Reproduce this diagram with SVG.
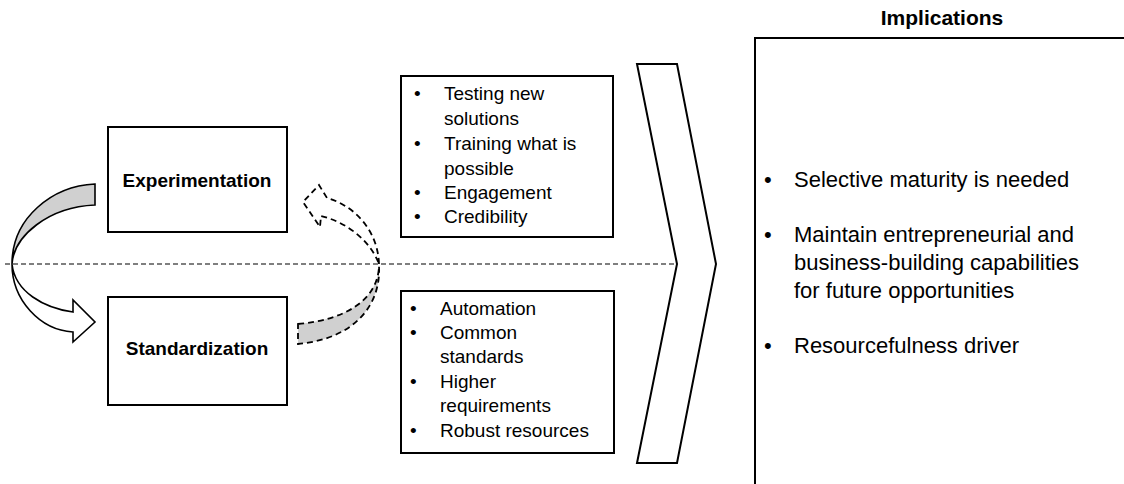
<svg xmlns="http://www.w3.org/2000/svg" width="1124" height="484" viewBox="0 0 1124 484">
  <style>
    .box { fill: #ffffff; stroke: #000000; stroke-width: 2; }
    .lbl { font-family: "Liberation Sans", Arial, sans-serif; fill: #000000; }
    .bold { font-weight: bold; font-size: 19px; text-anchor: middle; }
    .list { font-size: 19px; }
    .impl { font-size: 22px; }
    .divider { stroke: #000000; stroke-width: 1.2; stroke-dasharray: 5 3; fill: none; }
    .solid-arrow { stroke: #000000; stroke-width: 1.6; stroke-linejoin: miter; }
    .dash-arrow { stroke: #000000; stroke-width: 1.8; stroke-dasharray: 6 4; stroke-linejoin: miter; }
  </style>

  <rect width="1124" height="484" fill="#ffffff"/>

  <!-- horizontal divider between the two modes -->
  <line class="divider" x1="5" y1="264" x2="677" y2="264"/>

  <g id="node-experimentation">
    <rect class="box" x="108" y="127" width="179" height="105"/>
    <text class="lbl bold" x="197" y="187">Experimentation</text>
  </g>

  <g id="node-standardization">
    <rect class="box" x="108" y="297" width="179" height="108"/>
    <text class="lbl bold" x="197" y="355">Standardization</text>
  </g>

  <g id="node-experimentation-traits">
    <rect class="box" x="401" y="76" width="212" height="161"/>
    <g class="lbl list">
      <text x="414" y="100">•</text><text x="444" y="100">Testing new</text>
      <text x="444" y="125">solutions</text>
      <text x="414" y="150">•</text><text x="444" y="150">Training what is</text>
      <text x="444" y="175">possible</text>
      <text x="414" y="199">•</text><text x="444" y="199">Engagement</text>
      <text x="414" y="223">•</text><text x="444" y="223">Credibility</text>
    </g>
  </g>

  <g id="node-standardization-traits">
    <rect class="box" x="401" y="291" width="213" height="162"/>
    <g class="lbl list">
      <text x="410" y="315">•</text><text x="440" y="315">Automation</text>
      <text x="410" y="339">•</text><text x="440" y="339">Common</text>
      <text x="440" y="363">standards</text>
      <text x="410" y="388">•</text><text x="440" y="388">Higher</text>
      <text x="440" y="412">requirements</text>
      <text x="410" y="437">•</text><text x="440" y="437">Robust resources</text>
    </g>
  </g>

  <g id="node-chevron">
    <polygon class="box" points="637,64 677,64 716,264 677,463 637,463 677,264"/>
  </g>

  <g id="node-implications">
    <text class="lbl" x="942" y="25" font-size="21" font-weight="bold" text-anchor="middle">Implications</text>
    <polyline fill="none" stroke="#000000" stroke-width="2" points="755,484 755,38 1124,38"/>
    <g class="lbl impl">
      <text x="764" y="187">•</text><text x="794" y="187">Selective maturity is needed</text>
      <text x="764" y="242">•</text><text x="794" y="242">Maintain entrepreneurial and</text>
      <text x="794" y="270">business-building capabilities</text>
      <text x="794" y="298">for future opportunities</text>
      <text x="764" y="353">•</text><text x="794" y="353">Resourcefulness driver</text>
    </g>
  </g>

  <g id="connectors">
    <!-- curved arrow: experimentation down to standardization -->
    <g id="edge-exp-to-std">
      <path class="solid-arrow" fill="#d0d0d0"
            d="M95,184 C52,186 12,218 12,264 C14,236 48,207 95,205 Z"/>
      <path class="solid-arrow" fill="#ffffff"
            d="M12,264 C12,300 40,330 73,332 L73,342 L95,322 L73,300 L73,312 C44,308 15,292 12,264 Z"/>
    </g>
    <!-- dashed curved arrow: standardization back up to experimentation -->
    <g id="edge-std-to-exp">
      <path class="dash-arrow" fill="#d0d0d0"
            d="M298,324 C345,320 378,300 379,266 C381,300 360,338 298,344 Z"/>
      <path class="dash-arrow" fill="#ffffff"
            d="M379,264 C378,232 356,206 327,198 L319,185 L303,202 L320,227 L321,216 C346,222 370,240 379,264 Z"/>
    </g>
  </g>
</svg>
